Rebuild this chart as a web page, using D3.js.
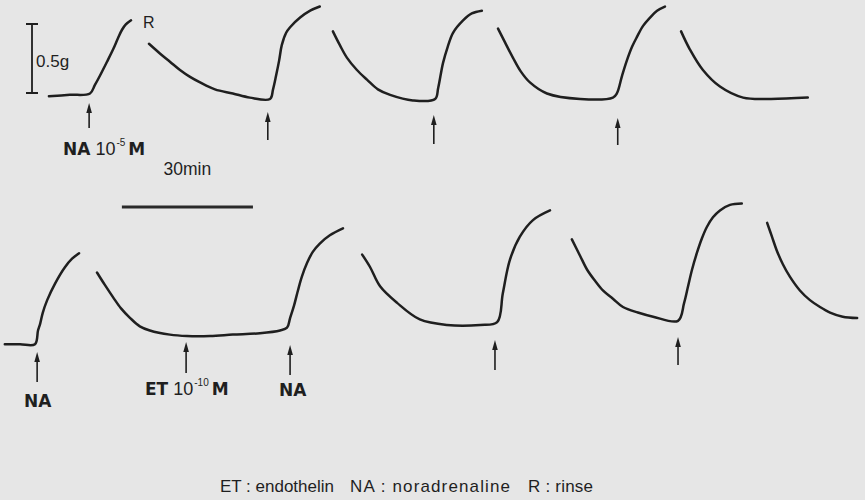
<!DOCTYPE html>
<html>
<head>
<meta charset="utf-8">
<script src="https://cdn.jsdelivr.net/npm/d3@7"></script>
<style>
  body { margin: 0; background: #e6e6e6; }
  svg { display: block; }
</style>
</head>
<body>
<div class="figure"></div>
<script>
// tension traces: [time (min), tension (g)]
var topSeg1 = [[11.2,0.02],[16.0,0.03],[20.6,0.04],[21.7,0.10],[22.9,0.17],[24.5,0.27],[25.9,0.36],[27.0,0.44],[27.9,0.50],[28.8,0.54],[30.0,0.57]];
var topSeg2 = [[34.1,0.40],[36.6,0.33],[38.9,0.27],[41.2,0.21],[43.5,0.16],[45.8,0.12],[49.2,0.07],[53.3,0.04],[57.2,0.01],[61.8,0.00],
               [62.5,0.07],[63.2,0.17],[63.9,0.28],[64.5,0.39],[65.5,0.48],[66.4,0.52],[68.7,0.59],[71.0,0.64],[73.2,0.67]];
var topSeg3 = [[76.2,0.49],[77.8,0.39],[79.4,0.30],[81.7,0.21],[84.0,0.14],[86.5,0.07],[89.3,0.03],[94.5,-0.01],[99.6,0.00],
               [100.3,0.08],[101.4,0.26],[102.5,0.38],[103.7,0.48],[106.0,0.57],[108.0,0.62],[110.3,0.64]];
var topSeg4 = [[114.0,0.51],[115.6,0.41],[117.4,0.30],[119.2,0.20],[121.3,0.12],[125.2,0.04],[132.8,0.00],[140.3,0.01],
               [141.2,0.04],[142.4,0.17],[143.5,0.28],[144.7,0.38],[145.8,0.45],[147.2,0.53],[148.8,0.59],[150.4,0.64],[152.2,0.67]];
var topSeg5 = [[155.9,0.49],[157.9,0.36],[160.9,0.21],[164.8,0.09],[170.1,0.01],[176.2,0.00],[184.9,0.01]];

var botSeg1 = [[1.1,-0.06],[4.6,-0.06],[8.0,-0.06],[8.7,0.04],[9.2,0.09],[9.8,0.17],[10.8,0.26],[12.6,0.38],[14.9,0.50],[16.5,0.56],[18.1,0.60]];
var botSeg2 = [[22.2,0.46],[24.0,0.37],[25.9,0.28],[27.7,0.20],[29.8,0.13],[32.0,0.07],[34.3,0.04],[38.9,0.01],[42.8,0.00],[48.1,0.00],
               [53.3,0.01],[59.5,0.02],[64.1,0.04],[65.7,0.06],[66.4,0.13],[67.3,0.22],[68.2,0.33],[69.1,0.43],[70.3,0.53],[71.6,0.61],
               [73.2,0.67],[75.5,0.73],[78.5,0.78]];
var botSeg3 = [[82.9,0.59],[84.7,0.50],[87.0,0.36],[90.9,0.24],[96.1,0.12],[102.3,0.08],[109.9,0.08],[113.8,0.10],
               [115.1,0.31],[116.7,0.55],[119.0,0.72],[122.0,0.84],[125.9,0.91]];
var botSeg4 = [[130.9,0.70],[132.8,0.58],[134.4,0.48],[136.2,0.40],[138.0,0.33],[140.3,0.27],[142.6,0.21],[146.0,0.17],[149.5,0.14],[155.2,0.11],
               [156.6,0.24],[157.5,0.36],[158.4,0.48],[159.5,0.60],[160.7,0.71],[161.8,0.79],[163.2,0.86],[164.8,0.91],[167.1,0.95],[169.8,0.96]];
var botSeg5 = [[175.6,0.82],[176.7,0.72],[177.8,0.62],[179.2,0.52],[180.8,0.43],[183.1,0.33],[185.4,0.26],[187.7,0.21],[190.0,0.17],[192.9,0.14],[196.2,0.13]];

// drug additions (min)
var topArrows = [20.4, 61.3, 99.3, 141.4];
var botArrows = [8.5, 42.6, 66.4, 113.3, 155.2];

var captions = ["ET : endothelin", "NA : noradrenaline", "R : rinse"];

var W = 865, H = 500;
var svg = d3.select(".figure").append("svg").attr("width", W).attr("height", H);

svg.append("rect").attr("width", W).attr("height", H).attr("fill", "#e6e6e6");

var x = d3.scaleLinear().domain([0, 198]).range([0, W]);
var yTop = d3.scaleLinear().domain([0, 0.5]).range([99, 30]);
var yBot = d3.scaleLinear().domain([0, 0.5]).range([336, 267]);

var ink = "#1f1f1f";

function drawTrace(data, y) {
  var line = d3.line()
    .x(function(d) { return x(d[0]); })
    .y(function(d) { return y(d[1]); })
    .curve(d3.curveCatmullRom.alpha(0.5));
  svg.append("path")
    .attr("d", line(data))
    .attr("fill", "none")
    .attr("stroke", ink)
    .attr("stroke-width", 2.5)
    .attr("stroke-linecap", "round")
    .attr("stroke-linejoin", "round");
}

[topSeg1, topSeg2, topSeg3, topSeg4, topSeg5].forEach(function(s) { drawTrace(s, yTop); });
[botSeg1, botSeg2, botSeg3, botSeg4, botSeg5].forEach(function(s) { drawTrace(s, yBot); });

function drawArrow(t, tip, bottom) {
  var cx = x(t);
  svg.append("line")
    .attr("x1", cx).attr("x2", cx)
    .attr("y1", tip + 6).attr("y2", bottom)
    .attr("stroke", ink).attr("stroke-width", 1.6);
  svg.append("path")
    .attr("d", "M" + cx + "," + tip + "L" + (cx - 2.8) + "," + (tip + 10) + "L" + (cx + 2.8) + "," + (tip + 10) + "Z")
    .attr("fill", ink);
}

var topTips = [[103, 128], [112, 140], [115, 144], [118, 145]];
topArrows.forEach(function(t, i) { drawArrow(t, topTips[i][0], topTips[i][1]); });
var botTips = [[352, 382], [342, 373], [345, 375], [340, 370], [337, 365]];
botArrows.forEach(function(t, i) { drawArrow(t, botTips[i][0], botTips[i][1]); });

// 0.5 g scale bar
var barTop = 24, barLen = yTop(0) - yTop(0.5);
svg.append("path")
  .attr("d", "M26," + barTop + "H38M32," + barTop + "V" + (barTop + barLen) + "M26," + (barTop + barLen) + "H38")
  .attr("fill", "none").attr("stroke", ink).attr("stroke-width", 1.8);
svg.append("text").attr("x", 36).attr("y", 67)
  .attr("font-family", "Liberation Sans").attr("font-size", 17).attr("fill", ink)
  .text("0.5g");

// 30 min bar
svg.append("line")
  .attr("x1", x(27.9)).attr("x2", x(27.9 + 30))
  .attr("y1", 207).attr("y2", 207)
  .attr("stroke", "#2a2a2a").attr("stroke-width", 3);
svg.append("text").attr("x", (x(27.9) + x(57.9)) / 2).attr("y", 175)
  .attr("text-anchor", "middle")
  .attr("font-family", "Liberation Sans").attr("font-size", 17.5).attr("fill", ink)
  .text("30min");

svg.append("text").attr("x", 143).attr("y", 28)
  .attr("font-family", "Liberation Sans").attr("font-size", 16).attr("fill", ink)
  .text("R");

function drugLabel(xPos, yPos, name, exp, size) {
  var t = svg.append("text").attr("x", xPos).attr("y", yPos)
    .attr("font-family", "DejaVu Sans").attr("font-size", size).attr("fill", ink);
  t.append("tspan").attr("font-weight", "bold").text(name);
  if (exp) {
    t.append("tspan").attr("dx", 5).attr("font-family", "Liberation Sans").attr("font-size", size + 1).text("10");
    t.append("tspan").attr("dy", -9).attr("dx", 1).attr("font-family", "Liberation Sans").attr("font-size", 10).text(exp);
    t.append("tspan").attr("dy", 9).attr("dx", 3).attr("font-weight", "bold").text("M");
  }
}
drugLabel(63, 155, "NA", "-5", 17);
drugLabel(24, 407, "NA", null, 17);
drugLabel(145, 395, "ET", "-10", 17);
drugLabel(279, 396, "NA", null, 17);

var capX = [220, 350, 528];
var capW = [114, 160, 65];
svg.append("g").selectAll("text")
  .data(captions)
  .enter()
  .append("text")
  .attr("x", function(d, i) { return capX[i]; })
  .attr("y", 492)
  .attr("textLength", function(d, i) { return capW[i]; })
  .attr("lengthAdjust", "spacing")
  .attr("font-family", "Liberation Sans")
  .attr("font-size", 17)
  .attr("fill", ink)
  .text(function(d) { return d; });
</script>
</body>
</html>
